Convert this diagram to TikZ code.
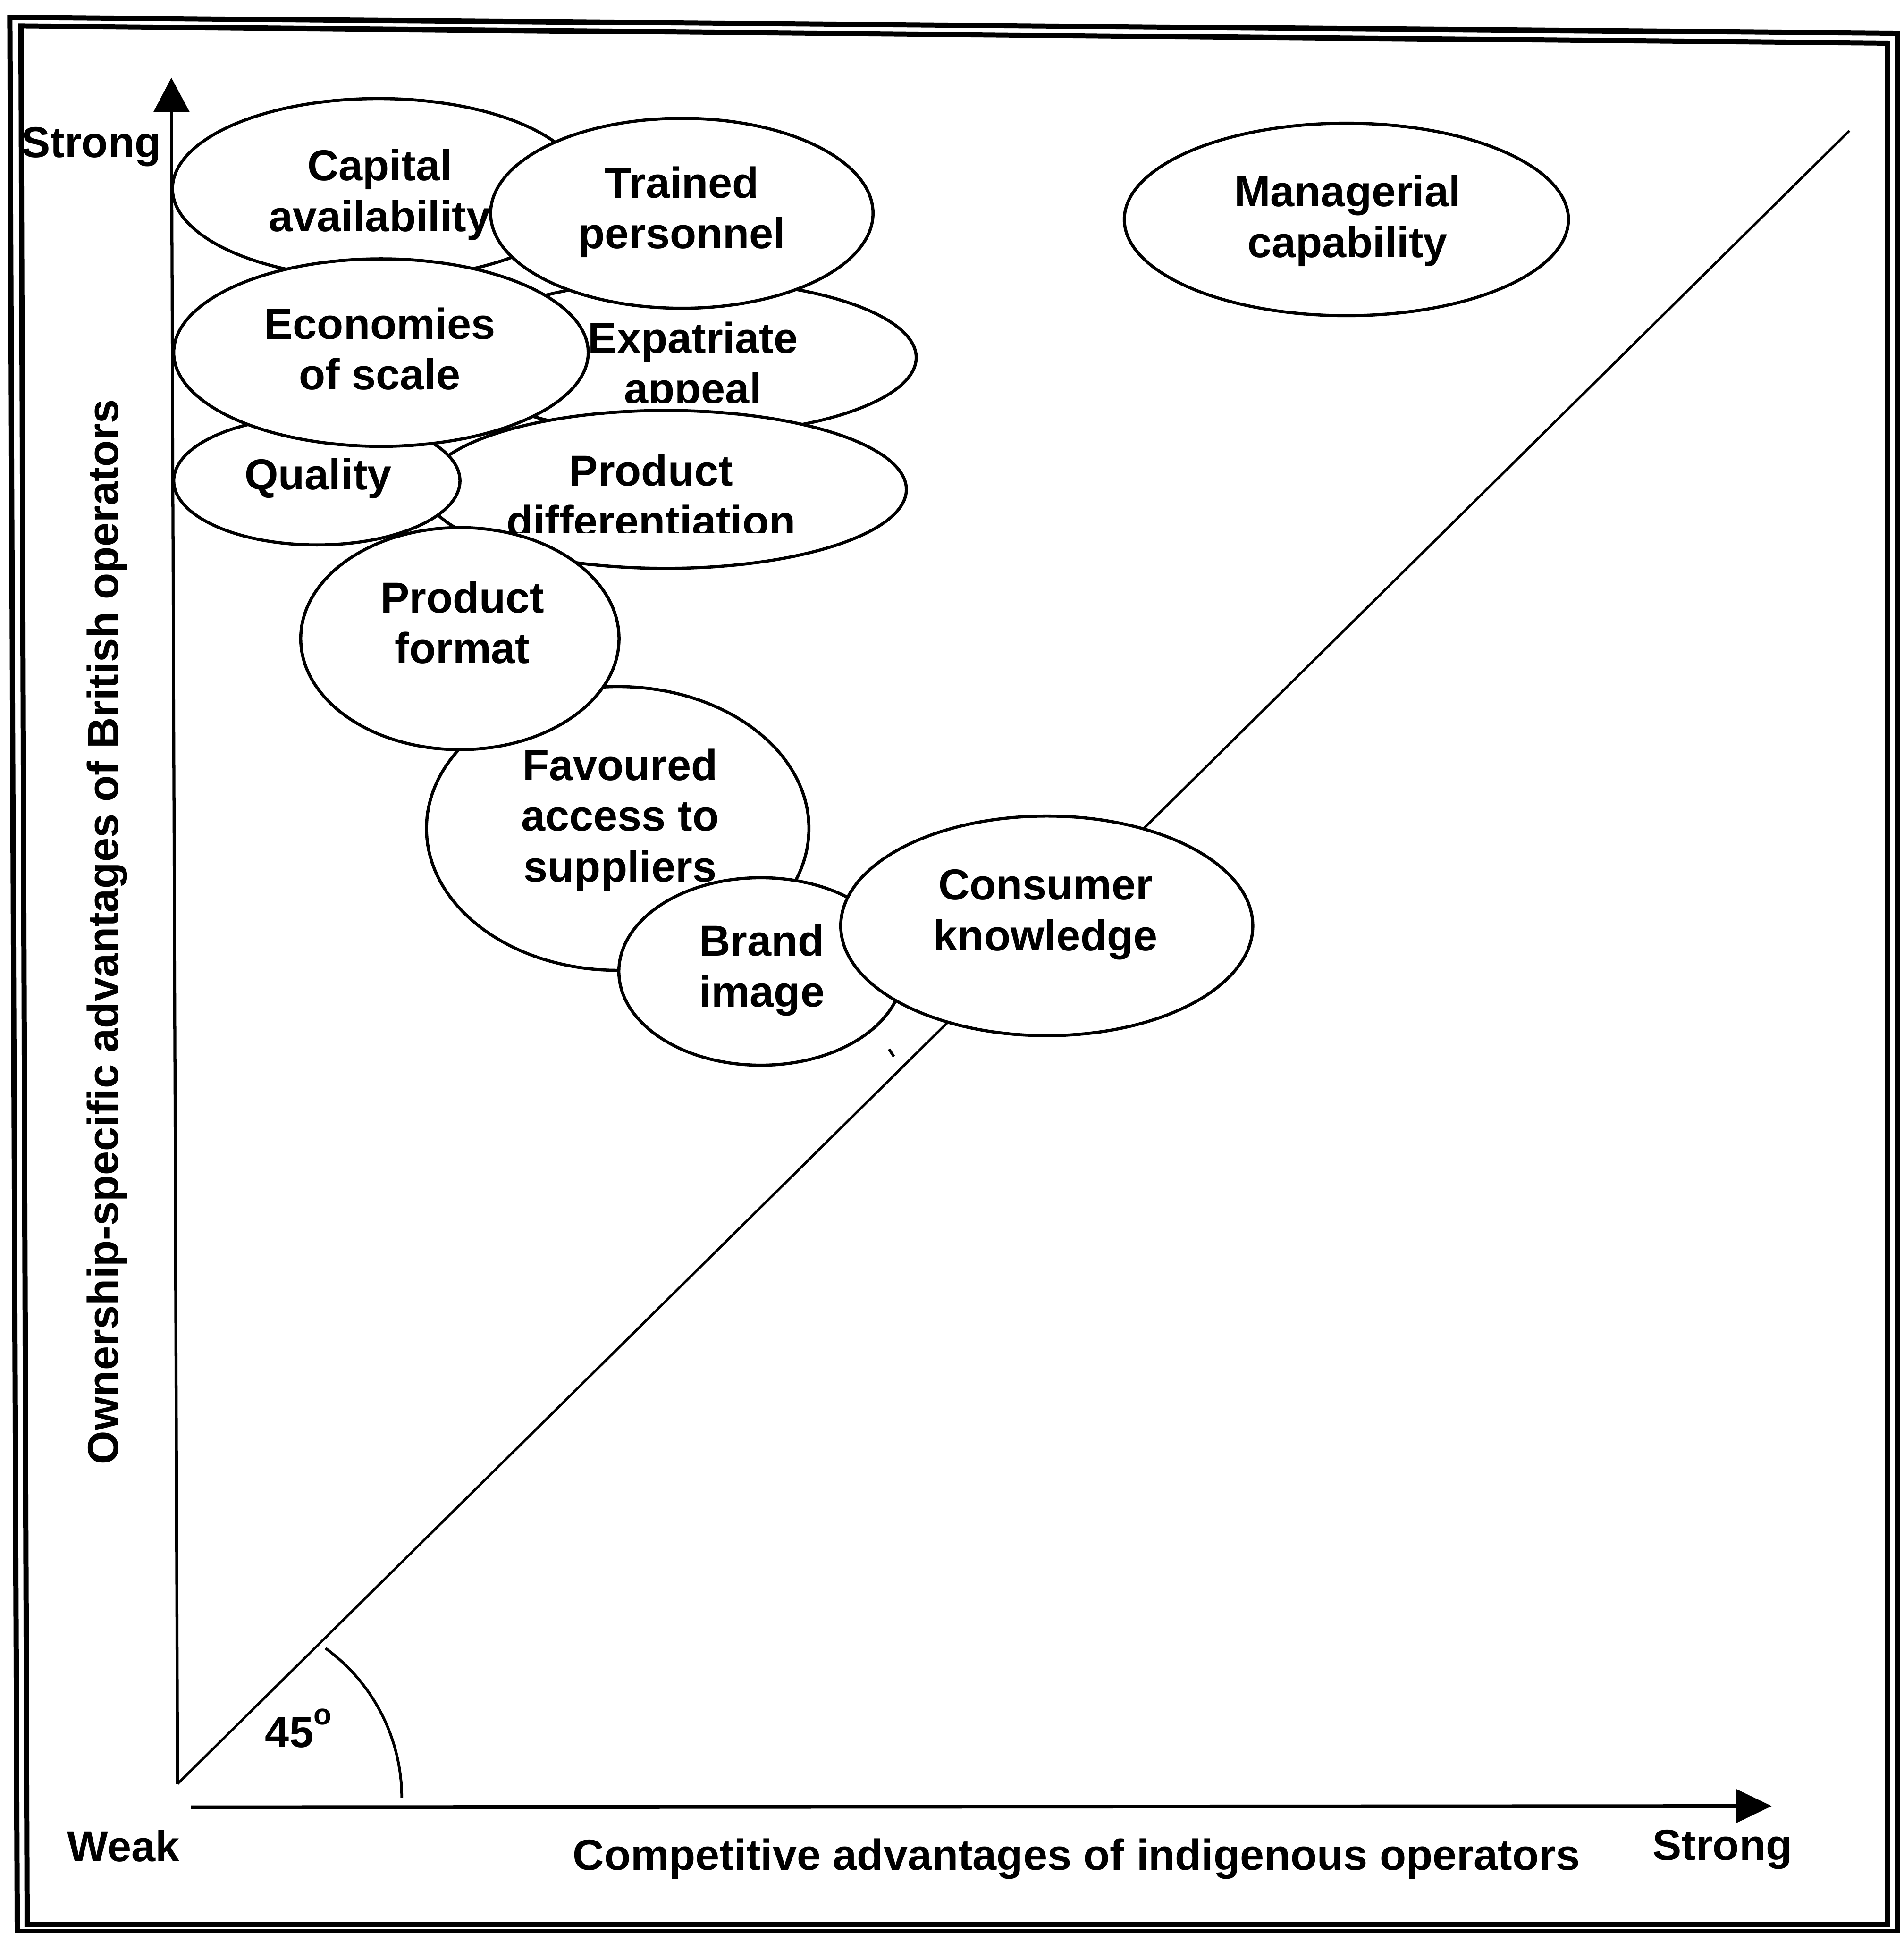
\documentclass[tikz,border=0pt]{standalone}
\usepackage{fontspec}
\setmainfont{Liberation Sans}
\usetikzlibrary{shapes.geometric,arrows.meta}
\begin{document}
\begin{tikzpicture}[x=0.01cm,y=-0.01cm,
  blob/.style={ellipse, draw, fill=white, line width=0.025cm, inner sep=0pt},
  lbl/.style={font=\fontsize{10}{11.7}\bfseries\selectfont, align=center, inner sep=0pt},
  thinline/.style={line width=0.02cm},
  frameline/.style={line width=0.042cm, line join=miter}]
\useasboundingbox (0,0) rectangle (1544,1568);

% double frame
\draw[frameline] (8,14) -- (1539,27) -- (1539,1567) -- (14,1567) -- cycle;
\draw[frameline] (17,21) -- (1531,35) -- (1531,1561) -- (22,1561) -- cycle;

% axes and the 45 degree line
\coordinate (O) at (144,1447);
\coordinate (ytip) at (139,63);
\coordinate (xstart) at (155,1466);
\coordinate (xtip) at (1437,1465);
\coordinate (dend) at (1500,106);
\draw[line width=0.024cm, -{Triangle[length=0.28cm,width=0.29cm]}] (O) -- (ytip);
\draw[line width=0.03cm, -{Triangle[length=0.29cm,width=0.27cm]}] (xstart) -- (xtip);
\draw[thinline] (O) -- (dend);

% angle mark
\coordinate (arcS) at (264,1337);
\draw[line width=0.022cm] (arcS) arc[start angle=54, end angle=0, radius=1.5cm];
\node[lbl] (ang) at (242,1402) {45\raisebox{5.2pt}{\fontsize{6.8}{7}\selectfont o}};

% axis labels
\node[lbl, anchor=base] (ystrong) at (74,127.5) {Strong};
\node[lbl, anchor=base] (weak) at (100,1510) {Weak};
\node[lbl, anchor=base] (xstrong) at (1397,1509) {Strong};
\node[lbl, anchor=base] (xlabel) at (873,1517) {Competitive advantages of indigenous operators};
\node[lbl, rotate=90] (ylabel) at (87,756) {Ownership-specific advantages of British operators};

% bubbles, back to front
\node[blob, minimum width=3.34cm, minimum height=1.46cm] (capital) at (307,153) {};
\node[lbl] (capital-t) at (308,158) {Capital\\availability};

\node[blob, minimum width=3.76cm, minimum height=1.26cm] (expat) at (555,290) {};
\begin{scope}
  \clip (380,240) rectangle (740,327);
  \node[lbl] (expat-t) at (562,298) {Expatriate\\appeal};
\end{scope}

\node[blob, minimum width=3.10cm, minimum height=1.54cm] (trained) at (553,173) {};
\node[lbl] (trained-t) at (553,172) {Trained\\personnel};

\node[blob, minimum width=3.90cm, minimum height=1.28cm] (proddiff) at (540,397) {};
\begin{scope}
  \clip (380,350) rectangle (730,432);
  \node[lbl] (proddiff-t) at (528,402) {Product\\differentiation};
\end{scope}

\node[blob, minimum width=2.32cm, minimum height=1.04cm] (quality) at (257,390) {};
\node[lbl] (quality-t) at (258,388) {Quality};

\node[blob, minimum width=3.36cm, minimum height=1.52cm] (economies) at (309,286) {};
\node[lbl] (economies-t) at (308,283) {Economies\\of scale};

\node[blob, minimum width=3.10cm, minimum height=2.30cm] (favoured) at (501,672) {};
\node[lbl] (favoured-t) at (503,665) {Favoured\\access to\\suppliers};

\node[blob, minimum width=2.58cm, minimum height=1.80cm] (format) at (373,518) {};
\node[lbl] (format-t) at (375,505) {Product\\format};

\node[blob, minimum width=2.30cm, minimum height=1.52cm] (brand) at (617,788) {};
\node[lbl] (brand-t) at (618,787) {Brand\\image};

\node[blob, minimum width=3.34cm, minimum height=1.78cm] (consumer) at (849,751) {};
\node[lbl] (consumer-t) at (848,742) {Consumer\\knowledge};

\node[blob, minimum width=3.60cm, minimum height=1.56cm] (managerial) at (1092,178) {};
\node[lbl] (managerial-t) at (1093,179) {Managerial\\capability};

% small stray stroke below the brand bubble
\coordinate (m1) at (721,851);
\coordinate (m2) at (725,857);
\draw[line width=0.022cm] (m1) -- (m2);
\end{tikzpicture}
\end{document}
